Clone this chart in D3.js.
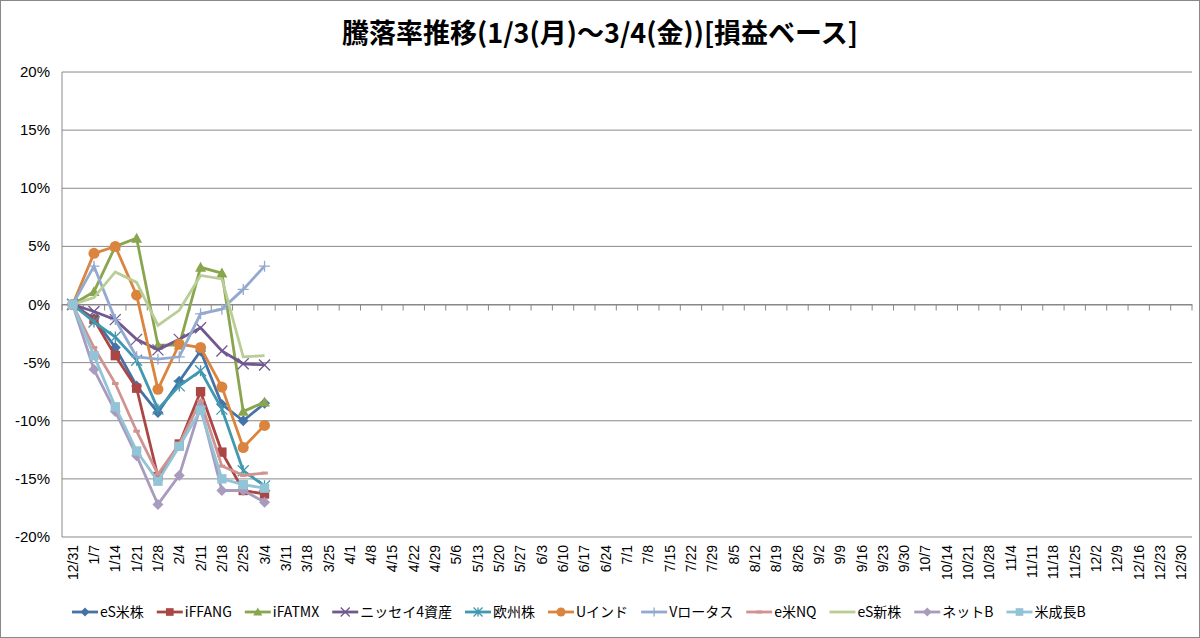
<!DOCTYPE html>
<html><head><meta charset="utf-8">
<script src="https://cdn.jsdelivr.net/npm/d3@7"></script>
<style>body{margin:0;background:#fff}svg{font-family:"Noto Sans CJK JP","Liberation Sans",sans-serif}</style>
</head><body><svg id="c" width="1200" height="638"></svg>
<script>
// categories: weekly dates
const dates = ["12/31","1/7","1/14","1/21","1/28","2/4","2/11","2/18","2/25","3/4","3/11","3/18","3/25","4/1","4/8","4/15","4/22","4/29","5/6","5/13","5/20","5/27","6/3","6/10","6/17","6/24","7/1","7/8","7/15","7/22","7/29","8/5","8/12","8/19","8/26","9/2","9/9","9/16","9/23","9/30","10/7","10/14","10/21","10/28","11/4","11/11","11/18","11/25","12/2","12/9","12/16","12/23","12/30"];
const yTicks = [20, 15, 10, 5, 0, -5, -10, -15, -20];

const names = ["eS米株","iFFANG","iFATMX","ニッセイ4資産","欧州株","Uインド","Vロータス","e米NQ","eS新株","ネットB","米成長B"];
const colors = ["#4572A7","#AA4643","#89A54E","#71588F","#4198AF","#DB843D","#93A9CF","#D19392","#B9CD96","#A99BBD","#92C3D6"];
const markers = ["diamond","square","triangle","x","star","circle","plus","dash","none","diamond","square"];
const values = [
  [0,-1.2,-3.7,-7.0,-9.3,-6.6,-4.0,-8.6,-10.0,-8.5],
  [0,-1.3,-4.4,-7.2,-14.8,-12.0,-7.5,-12.7,-16.0,-16.3],
  [0,1.1,5.0,5.7,-3.5,-3.5,3.2,2.7,-9.2,-8.4],
  [0,-0.6,-1.3,-3.0,-3.9,-3.0,-2.0,-4.0,-5.1,-5.2],
  [0,-1.5,-2.8,-4.8,-9.0,-7.0,-5.7,-9.0,-14.3,-15.6],
  [0,4.4,5.0,0.8,-7.3,-3.4,-3.7,-7.1,-12.3,-10.4],
  [0,3.3,-1.3,-4.5,-4.7,-4.5,-0.8,-0.4,1.3,3.3],
  [0,-3.7,-6.8,-10.9,-14.6,-12.0,-8.3,-13.9,-14.7,-14.5],
  [0,0.6,2.8,1.9,-1.8,-0.5,2.5,2.2,-4.5,-4.4],
  [0,-5.6,-9.2,-13.0,-17.2,-14.7,-8.8,-16.0,-16.0,-17.0],
  [0,-4.4,-8.8,-12.6,-15.2,-12.2,-9.1,-15.0,-15.5,-15.8]
];

const svg = d3.select("#c");
const L = 62, R = 1192, T = 72, B = 537;
const x = d3.scaleBand().domain(dates).range([L, R]);
const y = d3.scaleLinear().domain([-20, 20]).range([B, T]);
const cx = d => x(d) + x.bandwidth() / 2;

svg.append("rect").attr("x",0.5).attr("y",0.5).attr("width",1199).attr("height",637).attr("fill","#fff").attr("stroke","#888");

svg.append("text").attr("x",600).attr("y",43).attr("text-anchor","middle")
  .attr("font-size",27).attr("font-weight","bold").text("騰落率推移(1/3(月)～3/4(金))[損益ベース]");

// grid
svg.append("g").selectAll("line").data(yTicks).join("line")
  .attr("x1",L).attr("x2",R).attr("y1",d=>y(d)).attr("y2",d=>y(d)).attr("stroke","#888");
svg.append("g").selectAll("text").data(yTicks).join("text")
  .attr("x",L-12).attr("y",d=>y(d)+5).attr("text-anchor","end").attr("font-size",15)
  .attr("font-family","Liberation Sans").text(d=>d+"%");
svg.append("line").attr("x1",L).attr("x2",L).attr("y1",T).attr("y2",B).attr("stroke","#888");

// category axis at 0
const xa = svg.append("g").attr("transform",`translate(0,${y(0)})`)
  .call(d3.axisBottom(x).tickSize(0).tickFormat(""));
xa.select(".domain").attr("stroke","#888");
svg.append("g").selectAll("line").data(dates.concat([null])).join("line")
  .attr("x1",(d,i)=>L+i*x.bandwidth()).attr("x2",(d,i)=>L+i*x.bandwidth())
  .attr("y1",y(0)).attr("y2",y(0)+6).attr("stroke","#888");
svg.append("g").selectAll("text").data(dates).join("text")
  .attr("transform",d=>`translate(${cx(d)+5},545) rotate(-90)`)
  .attr("text-anchor","end").attr("font-size",14).attr("font-family","Liberation Sans").text(d=>d);

function marker(g, type, col, s) {
  if (type === "none") return;
  if (type === "diamond") g.append("path").attr("d",`M0,${-s}L${s},0L0,${s}L${-s},0Z`).attr("fill",col);
  else if (type === "square") g.append("rect").attr("x",-s*0.85).attr("y",-s*0.85).attr("width",s*1.7).attr("height",s*1.7).attr("fill",col);
  else if (type === "triangle") g.append("path").attr("d",`M0,${-s}L${s},${s*0.8}L${-s},${s*0.8}Z`).attr("fill",col);
  else if (type === "circle") g.append("circle").attr("r",s).attr("fill",col);
  else if (type === "x") g.append("path").attr("d",`M${-s},${-s}L${s},${s}M${-s},${s}L${s},${-s}`).attr("stroke",col).attr("stroke-width",1.3);
  else if (type === "star") g.append("path").attr("d",`M${-s},${-s}L${s},${s}M${-s},${s}L${s},${-s}M0,${-s}L0,${s}`).attr("stroke",col).attr("stroke-width",1.3);
  else if (type === "plus") g.append("path").attr("d",`M${-s},0L${s},0M0,${-s}L0,${s}`).attr("stroke",col).attr("stroke-width",1.3);
  else if (type === "dash") g.append("path").attr("d",`M${-s*0.6},0L${s*0.6},0`).attr("stroke",col).attr("stroke-width",3);
}

const line = d3.line().x((d,i)=>cx(dates[i])).y(d=>y(d));
values.forEach((vals, k) => {
  const g = svg.append("g");
  g.append("path").attr("d", line(vals)).attr("fill","none").attr("stroke",colors[k]).attr("stroke-width",2.8);
  vals.forEach((v,i) => marker(g.append("g").attr("transform",`translate(${cx(dates[i])},${y(v)})`), markers[k], colors[k], 5.5));
});

// legend
const lg = svg.append("g").attr("transform","translate(72,612)");
let lx = 0;
names.forEach((n,k) => {
  const g = lg.append("g").attr("transform",`translate(${lx},0)`);
  g.append("line").attr("x1",0).attr("x2",26).attr("stroke",colors[k]).attr("stroke-width",2.8);
  marker(g.append("g").attr("transform","translate(13,0)"), markers[k], colors[k], 4.5);
  const t = g.append("text").attr("x",28).attr("y",5).attr("font-size",14).text(n);
  lx += 28 + t.node().getComputedTextLength() + 13;
});
</script></body></html>
